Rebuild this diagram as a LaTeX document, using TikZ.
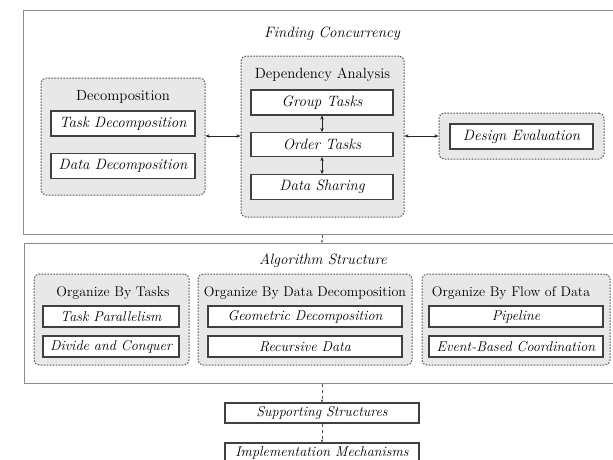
\documentclass[tikz,border=0pt]{standalone}
\usepackage{fontspec}
\usetikzlibrary{arrows.meta}
\tikzset{
  outerbox/.style={draw=black!45, line width=1.2pt, inner sep=0pt, anchor=north west},
  grp/.style={draw=black!65, line width=1pt, dash pattern=on 1.6pt off 1.4pt, fill=black!9, rounded corners=5pt, inner sep=0pt},
  inbox/.style={draw=black!75, line width=1.1pt, fill=white, inner sep=0pt, font=\fontsize{15}{17}\selectfont\itshape},
  algbox/.style={inbox, font=\fontsize{14.2}{16}\selectfont\itshape},
  ttl/.style={font=\fontsize{15}{17}\selectfont\itshape, inner sep=0pt},
  hdg/.style={font=\fontsize{14.8}{17}\selectfont, inner sep=0pt},
  ahdg/.style={font=\fontsize{14}{17}\selectfont, inner sep=0pt},
  dbl/.style={{Stealth[length=4pt,width=3.5pt]}-{Stealth[length=4pt,width=3.5pt]}, line width=0.8pt, black!85},
  conn/.style={dashed, line width=0.6pt, black!70, -{Stealth[length=3pt,width=2.5pt]}}
}
\begin{document}
\begin{tikzpicture}[x=1pt,y=-1pt]
\useasboundingbox (0,0) rectangle (613,459);
% Finding Concurrency
\node[outerbox, minimum width=600pt, minimum height=224pt] (fc) at (23,10) {};
\node[ttl] (fct) at (332,34) {Finding Concurrency};
\node[grp, minimum width=164pt, minimum height=117pt] (dec) at (123,136.5) {};
\node[hdg] (dect) at (123,97) {Decomposition};
\node[inbox, minimum width=144pt, minimum height=25pt] (td) at (123,123.5) {Task Decomposition};
\node[inbox, minimum width=144pt, minimum height=25pt] (dd) at (123,166) {Data Decomposition};
\node[grp, minimum width=163pt, minimum height=161pt] (dep) at (322.5,136.5) {};
\node[hdg] (dept) at (322.5,75) {Dependency Analysis};
\node[inbox, minimum width=142pt, minimum height=25pt] (gt) at (322,102.5) {Group Tasks};
\node[inbox, minimum width=142pt, minimum height=24pt] (ot) at (322,144.5) {Order Tasks};
\node[inbox, minimum width=142pt, minimum height=25pt] (ds) at (322,187) {Data Sharing};
\node[grp, minimum width=165pt, minimum height=46pt] (deg) at (521.5,136) {};
\node[inbox, minimum width=143pt, minimum height=25pt] (de) at (521.5,136.5) {Design Evaluation};
\draw[dbl] (dec.east |- 0,136) -- (dep.west |- 0,136);
\draw[dbl] (dep.east |- 0,136) -- (deg.west |- 0,136);
\draw[dbl] (gt.south) -- (ot.north);
\draw[dbl] (ot.south) -- (ds.north);
% Algorithm Structure
\node[outerbox, minimum width=600pt, minimum height=140pt] (as) at (24,243) {};
\node[ttl] (ast) at (323,261) {Algorithm Structure};
\node[grp, minimum width=155pt, minimum height=91pt] (g1) at (111.5,319.5) {};
\node[ahdg] (g1t) at (113,293) {Organize By Tasks};
\node[algbox, minimum width=136pt, minimum height=21pt] (tp) at (111,316.5) {Task Parallelism};
\node[algbox, minimum width=136pt, minimum height=21pt] (dc) at (111,346.5) {Divide and Conquer};
\node[grp, minimum width=214pt, minimum height=91pt] (g2) at (305,319.5) {};
\node[ahdg] (g2t) at (305,293) {Organize By Data Decomposition};
\node[algbox, minimum width=194pt, minimum height=21pt] (gd) at (305,316.5) {Geometric Decomposition};
\node[algbox, minimum width=194pt, minimum height=21pt] (rd) at (305,346.5) {Recursive Data};
\node[grp, minimum width=188pt, minimum height=91pt] (g3) at (516,319.5) {};
\node[ahdg] (g3t) at (511,293) {Organize By Flow of Data};
\node[algbox, minimum width=174pt, minimum height=21pt] (pl) at (516,316.5) {Pipeline};
\node[algbox, minimum width=174pt, minimum height=21pt] (eb) at (516,346.5) {Event-Based Coordination};
% bottom
\node[algbox, minimum width=194pt, minimum height=20pt] (ss) at (322,413) {Supporting Structures};
\node[algbox, minimum width=194pt, minimum height=20pt] (im) at (322,453) {Implementation Mechanisms};
\draw[conn] (fc.south -| ss.north) -- (as.north -| ss.north);
\draw[conn] (as.south -| ss.north) -- (ss.north);
\draw[conn] (ss.south) -- (im.north);
\end{tikzpicture}
\end{document}
